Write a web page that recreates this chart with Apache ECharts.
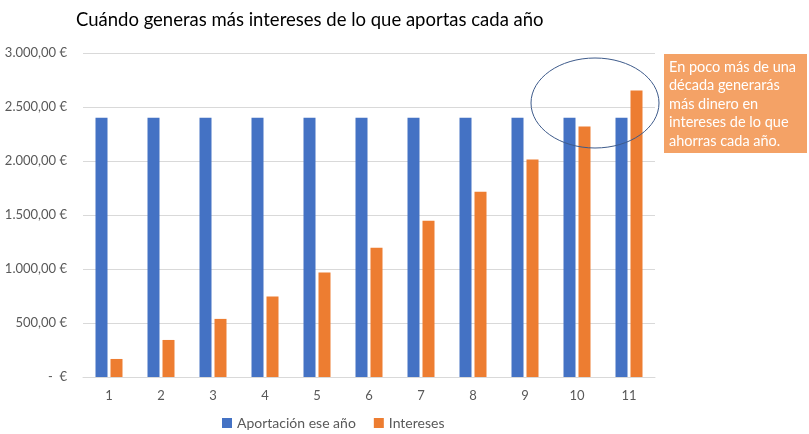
<!DOCTYPE html>
<html>
<head>
<meta charset="utf-8">
<script src="https://cdn.jsdelivr.net/npm/echarts@6/dist/echarts.min.js"></script>
<style>
  html, body { margin: 0; padding: 0; background: #ffffff; }
  #chart { width: 809px; height: 434px; }
</style>
</head>
<body>
<div id="chart"></div>
<script>
// years 1..11
var years = ['1', '2', '3', '4', '5', '6', '7', '8', '9', '10', '11'];
// what is put in each year
var aportacion = [2400, 2400, 2400, 2400, 2400, 2400, 2400, 2400, 2400, 2400, 2400];
// interest earned each year
var intereses = [167, 343, 538, 745, 968, 1197, 1447, 1716, 2013, 2319, 2653];

var nota = 'En poco más de una\ndécada generarás\nmás dinero en\nintereses de lo que\nahorras cada año.';

var font = 'Lato, "Open Sans", sans-serif';

function euro(val) {
  if (val === 0) return '-  €';
  var s = val.toFixed(2).split('.');
  var ent = s[0].replace(/\B(?=(\d{3})+(?!\d))/g, '.');
  return ent + ',' + s[1] + ' €';
}

var chart = echarts.init(document.getElementById('chart'));

var option = {
  animation: false,
  color: ['#4472c4', '#ed7d31'],
  title: {
    text: 'Cuándo generas más intereses de lo que aportas cada año',
    left: 71,
    top: 6,
    textStyle: {
      fontFamily: font,
      fontSize: 18.5,
      fontWeight: 'normal',
      color: '#000000'
    }
  },
  legend: {
    top: 411,
    left: 217,
    itemWidth: 10,
    itemHeight: 10,
    itemGap: 18,
    icon: 'rect',
    textStyle: {
      fontFamily: font,
      fontSize: 14,
      color: '#595959'
    },
    data: ['Aportación ese año', 'Intereses']
  },
  grid: {
    left: 83,
    right: 154,
    top: 53,
    bottom: 57
  },
  xAxis: {
    type: 'category',
    data: years,
    axisLine: { lineStyle: { color: '#d9d9d9' } },
    axisTick: { show: false },
    axisLabel: {
      fontFamily: font,
      fontSize: 13,
      color: '#595959',
      margin: 12
    }
  },
  yAxis: {
    type: 'value',
    min: 0,
    max: 3000,
    interval: 500,
    axisLine: { show: false },
    axisTick: { show: false },
    splitLine: { lineStyle: { color: '#d9d9d9' } },
    axisLabel: {
      fontFamily: font,
      fontSize: 13,
      color: '#595959',
      margin: 16,
      formatter: euro
    }
  },
  series: [
    {
      name: 'Aportación ese año',
      type: 'bar',
      barWidth: 12,
      barGap: '25%',
      data: aportacion
    },
    {
      name: 'Intereses',
      type: 'bar',
      barWidth: 12,
      barGap: '25%',
      data: intereses
    }
  ],
  graphic: [
    {
      type: 'ellipse',
      shape: { cx: 595, cy: 103, rx: 64, ry: 45 },
      style: { fill: 'none', stroke: '#3d5a8a', lineWidth: 1 },
      z: 10
    },
    {
      type: 'rect',
      shape: { x: 664, y: 54, width: 143, height: 99 },
      style: { fill: '#f4a266' },
      z: 10
    },
    {
      type: 'text',
      left: 669,
      top: 58,
      style: {
        text: nota,
        fill: '#ffffff',
        fontFamily: font,
        fontSize: 14.5,
        lineHeight: 18.5
      },
      z: 11
    }
  ]
};

chart.setOption(option);
window.addEventListener('resize', function () {
  chart.resize();
});
</script>
</body>
</html>
